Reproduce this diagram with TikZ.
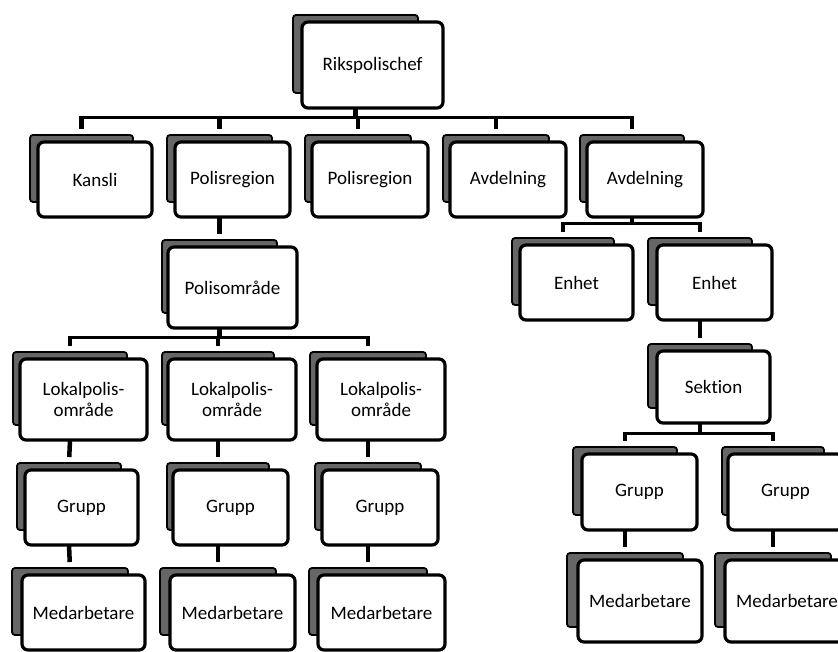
\documentclass[tikz,border=0pt]{standalone}
\usepackage{fontspec}
\setmainfont[Ligatures={NoCommon,NoContextual}]{Carlito}
\newcommand\obox[8]{%
  \node[shadowbox, minimum width={(#7-#6)*1pt}, minimum height={(#5-#3-8)*1pt}]
    (#1-s) at ({(#6+#7)/2},{(#3-7+#5-15)/2}) {};
  \node[frontbox, minimum width={(#4-#2)*1pt}, minimum height={(#5-#3)*1pt}]
    (#1) at ({(#2+#4)/2},{(#3+#5)/2}) {#8};
}
\begin{document}
\begin{tikzpicture}[x=1pt,y=-1pt,
  shadowbox/.style={draw=black, line width=1.8pt, fill=black!60, rounded corners=3pt, inner sep=0pt, outer sep=0pt},
  frontbox/.style={draw=black, line width=3.2pt, fill=white, rounded corners=6pt, inner sep=0pt, outer sep=0pt, align=center, font=\fontsize{19}{21}\selectfont},
  hline/.style={line width=3pt},
  vline/.style={line width=4.5pt},
  drop/.style={vline, shorten <=-1.5pt, shorten >=6pt}]
\useasboundingbox (0,0) rectangle (838,652);
\fill[white] (0,0) rectangle (838,652);
\clip (0,0) rectangle (838,652);

% boxes: name, front left, top, right, bottom, shadow left, shadow right, text
\obox{riks}{302}{22}{443}{108}{293}{418}{Rikspolischef}
\obox{kansli}{38}{142}{152}{217}{30}{133}{Kansli}
\obox{pr1}{175}{142}{290}{217}{167}{272}{Polisregion}
\obox{pr2}{312}{142}{428}{217}{305}{411}{Polisregion}
\obox{avd1}{450}{142}{566}{217}{443}{549}{Avdelning}
\obox{avd2}{587}{142}{703}{217}{580}{684}{Avdelning}
\obox{po}{168}{247}{297}{328}{162}{277}{Polisområde}
\obox{lp1}{20}{359}{147}{440}{13}{127}{Lokalpolis-\\område}
\obox{lp2}{168}{359}{296}{440}{162}{274}{Lokalpolis-\\område}
\obox{lp3}{317}{359}{445}{440}{310}{426}{Lokalpolis-\\område}
\obox{g1}{25}{470}{138}{545}{17}{121}{Grupp}
\obox{g2}{173}{470}{288}{545}{167}{269}{Grupp}
\obox{g3}{322}{470}{438}{545}{315}{421}{Grupp}
\obox{m1}{22}{575}{145}{650}{12}{128}{Medarbetare}
\obox{m2}{170}{575}{295}{650}{160}{276}{Medarbetare}
\obox{m3}{318}{575}{445}{650}{309}{427}{Medarbetare}
\obox{e1}{520}{245}{633}{320}{512}{614}{Enhet}
\obox{e2}{657}{245}{772}{320}{648}{752}{Enhet}
\obox{sek}{657}{351}{770}{423}{648}{752}{Sektion}
\obox{gr1}{582}{454}{697}{530}{573}{677}{Grupp}
\obox{gr2}{728}{454}{843}{530}{722}{824}{Grupp}
\obox{mr1}{578}{560}{702}{642}{567}{683}{Medarbetare}
\obox{mr2}{725}{560}{849}{642}{715}{831}{Medarbetare}

% bus levels
\coordinate (bus1) at (0,118);
\coordinate (bus2) at (0,337);
\coordinate (bus3) at (0,224);
\coordinate (bus4) at (0,433);

% Rikspolischef -> row 2
\draw[vline] (riks-s |- riks.south) -- (riks-s |- bus1);
\draw[hline] ([xshift=-2.25pt]kansli-s |- bus1) -- ([xshift=2.25pt]avd2-s |- bus1);
\foreach \c in {kansli,pr1,pr2,avd1,avd2}
  \draw[drop] (\c-s |- bus1) -- (\c-s.north);

% Polisregion -> Polisomrade
\draw[vline, shorten >=6pt] (pr1-s |- pr1.south) -- (po-s.north);

% Polisomrade -> Lokalpolisomraden
\draw[vline] (po-s |- po.south) -- (po-s |- bus2);
\draw[hline] ([xshift=-2.25pt]lp1-s |- bus2) -- ([xshift=2.25pt]lp3-s |- bus2);
\foreach \c in {lp1,lp2,lp3}
  \draw[drop] (\c-s |- bus2) -- (\c-s.north);

% Lokalpolisomrade -> Grupp -> Medarbetare
\draw[vline, shorten >=6pt] (lp1-s |- lp1.south) -- (g1-s.north);
\draw[vline, shorten >=6pt] (lp2-s |- lp2.south) -- (g2-s.north);
\draw[vline, shorten >=6pt] (lp3-s |- lp3.south) -- (g3-s.north);
\draw[vline, shorten >=6pt] (g1-s |- g1.south) -- (m1-s.north);
\draw[vline, shorten >=6pt] (g2-s |- g2.south) -- (m2-s.north);
\draw[vline, shorten >=6pt] (g3-s |- g3.south) -- (m3-s.north);

% Avdelning -> Enheter
\draw[vline] (avd2-s |- avd2.south) -- (avd2-s |- bus3);
\draw[hline] ([xshift=-2.25pt]e1-s |- bus3) -- ([xshift=2.25pt]e2-s |- bus3);
\foreach \c in {e1,e2}
  \draw[drop] (\c-s |- bus3) -- (\c-s.north);

% Enhet -> Sektion
\draw[vline, shorten >=6pt] (e2-s |- e2.south) -- (sek-s.north);

% Sektion -> Grupper
\draw[vline] (sek-s |- sek.south) -- (sek-s |- bus4);
\draw[hline] ([xshift=-2.25pt]gr1-s |- bus4) -- ([xshift=2.25pt]gr2-s |- bus4);
\foreach \c in {gr1,gr2}
  \draw[drop] (\c-s |- bus4) -- (\c-s.north);

% Grupp -> Medarbetare (right)
\draw[vline, shorten >=6pt] (gr1-s |- gr1.south) -- (mr1-s.north);
\draw[vline, shorten >=6pt] (gr2-s |- gr2.south) -- (mr2-s.north);
\end{tikzpicture}
\end{document}
